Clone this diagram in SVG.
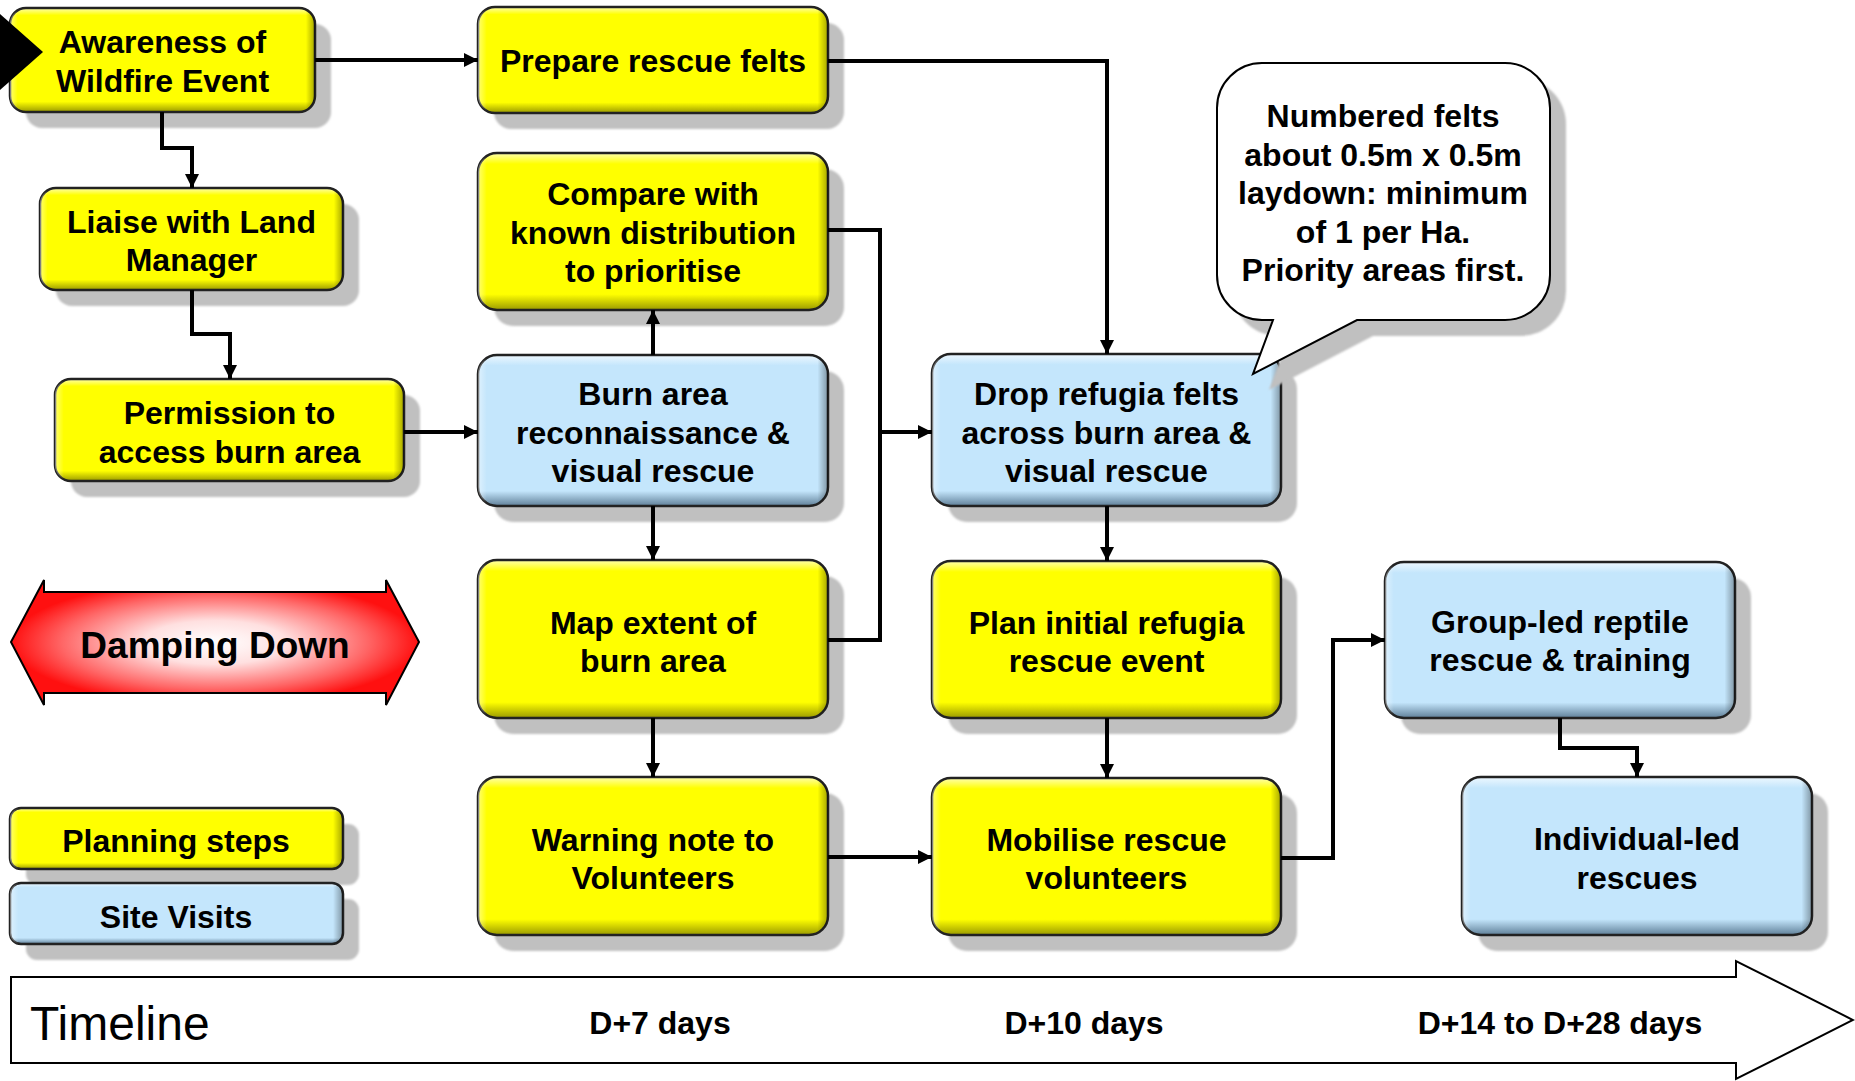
<svg xmlns="http://www.w3.org/2000/svg" width="1855" height="1081" viewBox="0 0 1855 1081">
<defs>
  <linearGradient id="gY" x1="0" y1="0" x2="0" y2="1">
    <stop offset="0" stop-color="#ffffb0"/>
    <stop offset="0.07" stop-color="#ffff00"/>
    <stop offset="0.9" stop-color="#ffff00"/>
    <stop offset="1" stop-color="#9a9a00"/>
  </linearGradient>
  <linearGradient id="gB" x1="0" y1="0" x2="0" y2="1">
    <stop offset="0" stop-color="#eef8ff"/>
    <stop offset="0.07" stop-color="#c4e6fc"/>
    <stop offset="0.9" stop-color="#c4e6fc"/>
    <stop offset="1" stop-color="#5f7f98"/>
  </linearGradient>
  <linearGradient id="gEdge" x1="0" y1="0" x2="1" y2="0">
    <stop offset="0" stop-color="#ffffff" stop-opacity="0.45"/>
    <stop offset="0.025" stop-color="#ffffff" stop-opacity="0"/>
    <stop offset="0.97" stop-color="#000000" stop-opacity="0"/>
    <stop offset="1" stop-color="#000000" stop-opacity="0.35"/>
  </linearGradient>
  <radialGradient id="gRed" cx="0.5" cy="0.5" r="0.5">
    <stop offset="0" stop-color="#ffffff"/>
    <stop offset="0.35" stop-color="#ffe0e0"/>
    <stop offset="0.75" stop-color="#ff6666"/>
    <stop offset="1" stop-color="#ff1010"/>
  </radialGradient>
  <filter id="soft" x="-5%" y="-5%" width="110%" height="110%">
    <feGaussianBlur stdDeviation="1.2"/>
  </filter>
  <marker id="arr" viewBox="0 0 10 10" refX="10" refY="5" markerWidth="14" markerHeight="14" markerUnits="userSpaceOnUse" orient="auto">
    <path d="M0,0 L10,5 L0,10 z" fill="#000"/>
  </marker>
</defs>
<style>
  .sh { fill: #c0c0c0; filter: url(#soft); }
  .y { fill: url(#gY); stroke: #222; stroke-width: 2.5; }
  .b { fill: url(#gB); stroke: #222; stroke-width: 2.5; }
  .edge { fill: url(#gEdge); stroke: none; }
  .t { font-family: "Liberation Sans", Arial, sans-serif; font-weight: bold; font-size: 32px; fill: #000; text-anchor: middle; }
  .tc { font-family: "Liberation Sans", Arial, sans-serif; font-weight: bold; font-size: 32px; fill: #000; text-anchor: middle; }
  .con { fill: none; stroke: #000; stroke-width: 4; }
  .arrow { marker-end: url(#arr); }
</style>
<rect width="1855" height="1081" fill="#ffffff"/>

<!-- Timeline -->
<g id="timeline">
  <polygon points="11,977 1736,977 1736,961 1853,1020 1736,1079 1736,1063 11,1063" fill="#ffffff" stroke="#000" stroke-width="2"/>
  <text x="30" y="1040" font-family="Liberation Sans, Arial, sans-serif" font-size="48" fill="#000">Timeline</text>
  <text class="t" x="660" y="1034">D+7 days</text>
  <text class="t" x="1084" y="1034">D+10 days</text>
  <text class="t" x="1560" y="1034">D+14 to D+28 days</text>
</g>

<!-- Damping Down -->
<g id="damping">
  <polygon points="11,642 44,580 44,592 386,592 386,580 419,642 386,705 386,693 44,693 44,705" fill="url(#gRed)" stroke="#000" stroke-width="2"/>
  <text x="215" y="658" font-family="Liberation Sans, Arial, sans-serif" font-weight="bold" font-size="37" text-anchor="middle" fill="#000">Damping Down</text>
</g>

<!-- Nodes -->
<g id="awareness">
  <rect class="sh" x="26" y="24" width="305" height="104" rx="16"/>
  <rect class="y" x="10" y="8" width="305" height="104" rx="16"/>
  <rect class="edge" x="10" y="8" width="305" height="104" rx="16"/>
  <text class="t" x="162.5" y="53">Awareness of</text>
  <text class="t" x="162.5" y="92">Wildfire Event</text>
</g>
<g id="liaise">
  <rect class="sh" x="56" y="204" width="303" height="102" rx="16"/>
  <rect class="y" x="40" y="188" width="303" height="102" rx="16"/>
  <rect class="edge" x="40" y="188" width="303" height="102" rx="16"/>
  <text class="t" x="191.5" y="233">Liaise with Land</text>
  <text class="t" x="191.5" y="271">Manager</text>
</g>
<g id="permission">
  <rect class="sh" x="71" y="395" width="349" height="102" rx="16"/>
  <rect class="y" x="55" y="379" width="349" height="102" rx="16"/>
  <rect class="edge" x="55" y="379" width="349" height="102" rx="16"/>
  <text class="t" x="229.5" y="424">Permission to</text>
  <text class="t" x="229.5" y="463">access burn area</text>
</g>
<g id="prepare">
  <rect class="sh" x="494" y="23" width="350" height="106" rx="17"/>
  <rect class="y" x="478" y="7" width="350" height="106" rx="17"/>
  <rect class="edge" x="478" y="7" width="350" height="106" rx="17"/>
  <text class="t" x="653" y="72">Prepare rescue felts</text>
</g>
<g id="compare">
  <rect class="sh" x="494" y="169" width="350" height="157" rx="19"/>
  <rect class="y" x="478" y="153" width="350" height="157" rx="19"/>
  <rect class="edge" x="478" y="153" width="350" height="157" rx="19"/>
  <text class="t" x="653" y="205">Compare with</text>
  <text class="t" x="653" y="244">known distribution</text>
  <text class="t" x="653" y="282">to prioritise</text>
</g>
<g id="burn">
  <rect class="sh" x="494" y="371" width="350" height="151" rx="19"/>
  <rect class="b" x="478" y="355" width="350" height="151" rx="19"/>
  <rect class="edge" x="478" y="355" width="350" height="151" rx="19"/>
  <text class="t" x="653" y="405">Burn area</text>
  <text class="t" x="653" y="444">reconnaissance &amp;</text>
  <text class="t" x="653" y="482">visual rescue</text>
</g>
<g id="map">
  <rect class="sh" x="494" y="576" width="350" height="158" rx="19"/>
  <rect class="y" x="478" y="560" width="350" height="158" rx="19"/>
  <rect class="edge" x="478" y="560" width="350" height="158" rx="19"/>
  <text class="t" x="653" y="634">Map extent of</text>
  <text class="t" x="653" y="672">burn area</text>
</g>
<g id="warning">
  <rect class="sh" x="494" y="793" width="350" height="158" rx="19"/>
  <rect class="y" x="478" y="777" width="350" height="158" rx="19"/>
  <rect class="edge" x="478" y="777" width="350" height="158" rx="19"/>
  <text class="t" x="653" y="851">Warning note to</text>
  <text class="t" x="653" y="889">Volunteers</text>
</g>
<g id="drop">
  <rect class="sh" x="948" y="370" width="349" height="152" rx="19"/>
  <rect class="b" x="932" y="354" width="349" height="152" rx="19"/>
  <rect class="edge" x="932" y="354" width="349" height="152" rx="19"/>
  <text class="t" x="1106.5" y="405">Drop refugia felts</text>
  <text class="t" x="1106.5" y="444">across burn area &amp;</text>
  <text class="t" x="1106.5" y="482">visual rescue</text>
</g>
<g id="plan">
  <rect class="sh" x="948" y="577" width="349" height="157" rx="19"/>
  <rect class="y" x="932" y="561" width="349" height="157" rx="19"/>
  <rect class="edge" x="932" y="561" width="349" height="157" rx="19"/>
  <text class="t" x="1106.5" y="634">Plan initial refugia</text>
  <text class="t" x="1106.5" y="672">rescue event</text>
</g>
<g id="mobilise">
  <rect class="sh" x="948" y="794" width="349" height="157" rx="19"/>
  <rect class="y" x="932" y="778" width="349" height="157" rx="19"/>
  <rect class="edge" x="932" y="778" width="349" height="157" rx="19"/>
  <text class="t" x="1106.5" y="851">Mobilise rescue</text>
  <text class="t" x="1106.5" y="889">volunteers</text>
</g>
<g id="group">
  <rect class="sh" x="1401" y="578" width="350" height="156" rx="19"/>
  <rect class="b" x="1385" y="562" width="350" height="156" rx="19"/>
  <rect class="edge" x="1385" y="562" width="350" height="156" rx="19"/>
  <text class="t" x="1560" y="633">Group-led reptile</text>
  <text class="t" x="1560" y="671">rescue &amp; training</text>
</g>
<g id="individual">
  <rect class="sh" x="1478" y="793" width="350" height="158" rx="19"/>
  <rect class="b" x="1462" y="777" width="350" height="158" rx="19"/>
  <rect class="edge" x="1462" y="777" width="350" height="158" rx="19"/>
  <text class="t" x="1637" y="850">Individual-led</text>
  <text class="t" x="1637" y="889">rescues</text>
</g>

<!-- Connectors -->
<g id="connectors">
  <path class="con arrow" d="M315,60 H478"/>
  <path class="con arrow" d="M162,112 V148 H192 V188"/>
  <path class="con arrow" d="M192,290 V334 H230 V379"/>
  <path class="con arrow" d="M404,432 H478"/>
  <path class="con arrow" d="M828,61 H1107 V354"/>
  <path class="con arrow" d="M653,355 V310"/>
  <path class="con arrow" d="M653,506 V560"/>
  <path class="con arrow" d="M653,718 V777"/>
  <path class="con" d="M828,230 H880 V640 H828"/>
  <path class="con arrow" d="M880,432 H932"/>
  <path class="con arrow" d="M828,857 H932"/>
  <path class="con arrow" d="M1107,506 V561"/>
  <path class="con arrow" d="M1107,718 V778"/>
  <path class="con arrow" d="M1281,858 H1333 V640 H1385"/>
  <path class="con arrow" d="M1560,718 V748 H1637 V777"/>
</g>

<!-- Callout -->
<g id="callout">
  <path class="sh" transform="translate(16,16)" d="M1262,63 H1505 A45,45 0 0 1 1550,108 V275 A45,45 0 0 1 1505,320 H1357 L1253,374 L1273,320 H1262 A45,45 0 0 1 1217,275 V108 A45,45 0 0 1 1262,63 Z"/>
  <path d="M1262,63 H1505 A45,45 0 0 1 1550,108 V275 A45,45 0 0 1 1505,320 H1357 L1253,374 L1273,320 H1262 A45,45 0 0 1 1217,275 V108 A45,45 0 0 1 1262,63 Z" fill="#ffffff" stroke="#000" stroke-width="2"/>
  <text class="tc" x="1383" y="127">Numbered felts</text>
  <text class="tc" x="1383" y="165.5">about 0.5m x 0.5m</text>
  <text class="tc" x="1383" y="204">laydown: minimum</text>
  <text class="tc" x="1383" y="242.5">of 1 per Ha.</text>
  <text class="tc" x="1383" y="281">Priority areas first.</text>
</g>

<!-- Legend -->
<g id="legend-planning">
  <rect class="sh" x="26" y="824" width="333" height="61" rx="11"/>
  <rect class="y" x="10" y="808" width="333" height="61" rx="11"/>
  <rect class="edge" x="10" y="808" width="333" height="61" rx="11"/>
  <text class="t" x="176" y="852">Planning steps</text>
</g>
<g id="legend-site">
  <rect class="sh" x="26" y="899" width="333" height="61" rx="11"/>
  <rect class="b" x="10" y="883" width="333" height="61" rx="11"/>
  <rect class="edge" x="10" y="883" width="333" height="61" rx="11"/>
  <text class="t" x="176" y="928">Site Visits</text>
</g>

<!-- Start marker -->
<g id="start">
  <polygon points="0,14 43,52 0,90" fill="#000"/>
</g>
</svg>
